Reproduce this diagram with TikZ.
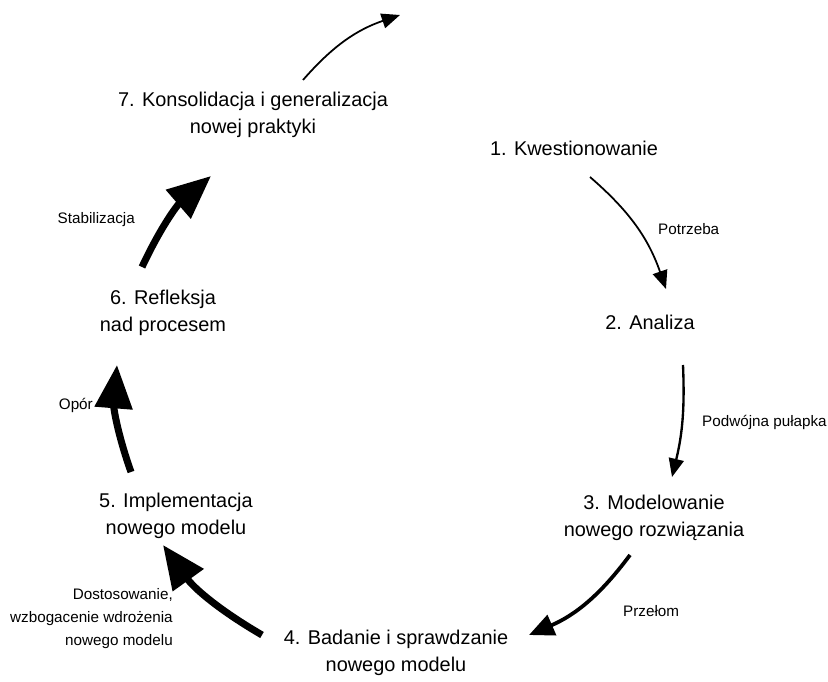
\documentclass[tikz,border=0pt]{standalone}
\usepackage{fontspec}
\setmainfont{Liberation Sans}
\usetikzlibrary{arrows.meta}

\begin{document}
\begin{tikzpicture}[x=0.03cm, y=-0.03cm, st/.style={font=\fontsize{17}{23}\selectfont, align=center, inner sep=0pt}, lb/.style={font=\fontsize{13}{19.6}\selectfont, align=center, inner sep=0pt}, ar/.style={-{Triangle[length=5.5mm, width=4.5mm]}, line width=1.5pt, bend left=15}, arm/.style={-{Triangle[length=7.5mm, width=6.5mm]}, line width=3.2pt, bend left=15}, arb/.style={-{Triangle[length=13mm, width=11mm]}, line width=6pt, bend left=12}]
	\useasboundingbox (0,0) rectangle (828,682);
	\node[st] (k1) at (574,148) {1. Kwestionowanie}; \node[st] (k2) at (650,322) {2. Analiza}; \node[st] (k3) at (654,518) {3. Modelowanie\\ nowego rozwiązania};
	\node[st] (k4) at (396,653) {4. Badanie i sprawdzanie\\ nowego modelu}; \node[st] (k5) at (176,516) {5. Implementacja\\ nowego modelu};
	\node[st] (k6) at (163,313) {6. Refleksja\\ nad procesem}; \node[st] (k7) at (253,115) {7. Konsolidacja i generalizacja\\ nowej praktyki};
	\node[lb, anchor=west] (l1) at (658,229) {Potrzeba}; \node[lb, anchor=west] (l2) at (702,422) {Podwójna pułapka}; \node[lb, anchor=west] (l3) at (623,611) {Przełom};
	\node[lb, align=right, anchor=east] (l4) at (173,619) {Dostosowanie,\\ wzbogacenie wdrożenia\\ nowego modelu};
	\node[lb, anchor=east] (l5) at (93,405) {Opór}; \node[lb, anchor=east] (l6) at (135,220) {Stabilizacja};
	\coordinate (a7) at (303,80); \coordinate (b7) at (400,15); \coordinate (a1) at (590,177); \coordinate (b1) at (666,289);
	\coordinate (a2) at (683,365); \coordinate (b2) at (672,477); \coordinate (a3) at (630,555); \coordinate (b3) at (529,635);
	\coordinate (a4) at (262,635); \coordinate (b4) at (163,545); \coordinate (a5) at (131,472); \coordinate (b5) at (117,365);
	\coordinate (a6) at (142,267); \coordinate (b6) at (211,176);
	\draw[ar] (a7) to (b7); \draw[ar] (a1) to (b1); \draw[ar, line width=2pt, bend left=8] (a2) to (b2); \draw[arm] (a3) to (b3);
	\draw[arb] (a4) to (b4); \draw[arb] (a5) to (b5); \draw[arb] (a6) to (b6);
\end{tikzpicture}
\end{document}
